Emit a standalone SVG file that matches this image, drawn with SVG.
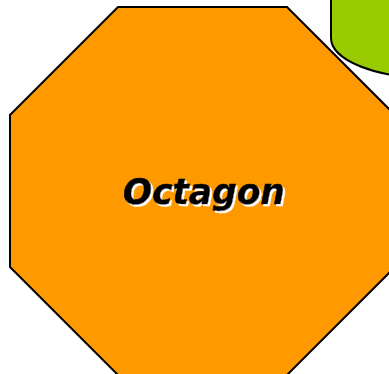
<svg xmlns="http://www.w3.org/2000/svg" width="389" height="374" viewBox="0 0 389 374">
<defs>
<filter id="wshadow" x="-10%" y="-20%" width="130%" height="150%">
<feOffset in="SourceAlpha" dx="2" dy="2" result="off"/>
<feFlood flood-color="#fff"/>
<feComposite in2="off" operator="in" result="sh"/>
<feMerge><feMergeNode in="sh"/><feMergeNode in="SourceGraphic"/></feMerge>
</filter>
</defs>
<style>
.shape{stroke:#000;stroke-width:2}
.lbl{font-family:"Comic Sans MS","DejaVu Sans","Liberation Sans",sans-serif;font-weight:bold;font-style:italic;font-size:36px;text-anchor:middle;fill:#000;stroke:#000;stroke-width:0.6}
</style>
<g id="cylinder">
<path class="shape" fill="#99CC00" stroke-width="3" d="M331,-10 L331,38 A99,40 0 0 0 430,78 L430,-10 Z"/>
</g>
<g id="octagon">
<polygon class="shape" fill="#FF9900" points="118,7 287,7 395,115 395,267 287,375 118,375 10,267 10,115"/>
<text class="lbl" x="204" y="204" textLength="162" lengthAdjust="spacingAndGlyphs" filter="url(#wshadow)">Octagon</text>
</g>
</svg>
